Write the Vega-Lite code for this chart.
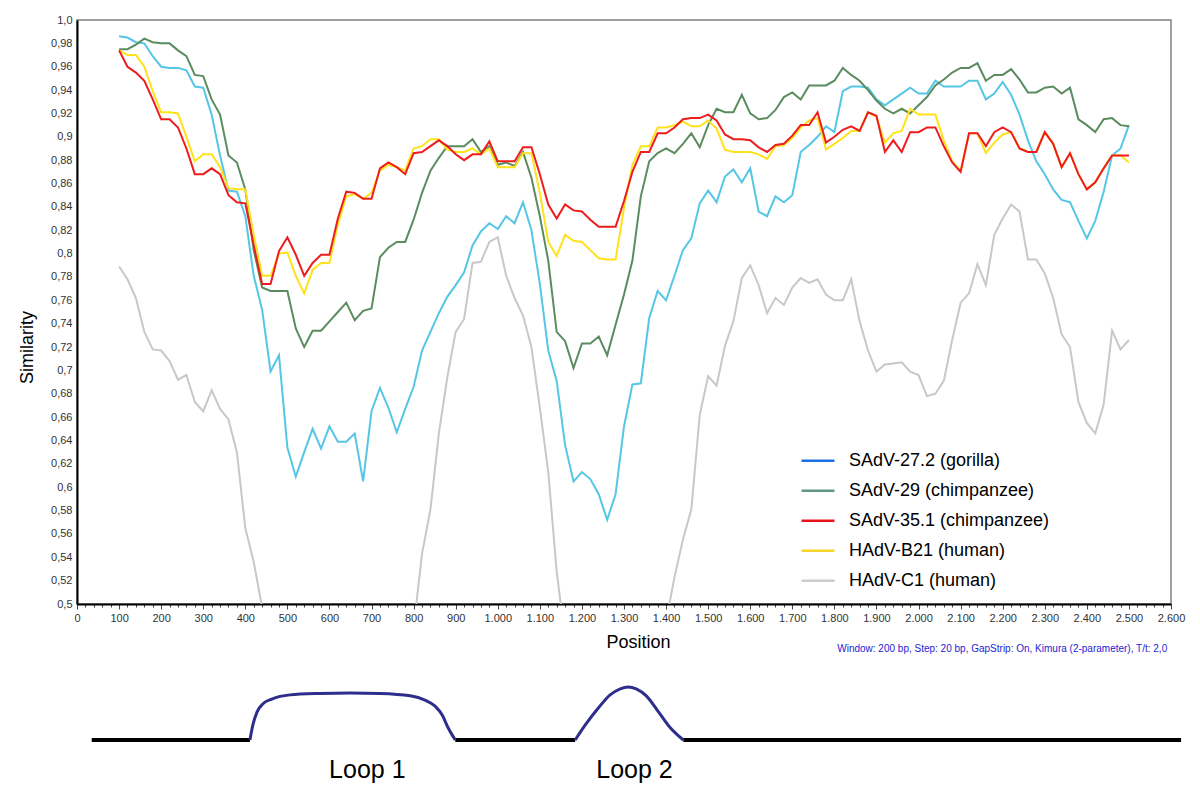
{
  "$schema": "https://vega.github.io/schema/vega-lite/v6.json",
  "width": 1094,
  "height": 584,
  "autosize": {"type": "none"},
  "padding": {"left": 77, "top": 20, "right": 29, "bottom": 193},
  "background": "white",
  "config": {
    "font": "Liberation Sans",
    "view": {"stroke": "#808080", "strokeWidth": 1.5},
    "axis": {"grid": false}
  },
  "datasets": {
    "sim": [
      {"p":100,"c":0.986,"g":0.975,"s":0.974,"b":0.974,"h":0.789},
      {"p":120,"c":0.985,"g":0.975,"s":0.960,"b":0.970,"h":0.778},
      {"p":140,"c":0.981,"g":0.979,"s":0.955,"b":0.970,"h":0.762},
      {"p":160,"c":0.980,"g":0.984,"s":0.948,"b":0.960,"h":0.733},
      {"p":180,"c":0.969,"g":0.981,"s":0.932,"b":0.939,"h":0.718},
      {"p":200,"c":0.960,"g":0.980,"s":0.915,"b":0.921,"h":0.717},
      {"p":220,"c":0.959,"g":0.980,"s":0.915,"b":0.921,"h":0.708},
      {"p":240,"c":0.959,"g":0.974,"s":0.908,"b":0.920,"h":0.692},
      {"p":260,"c":0.957,"g":0.969,"s":0.890,"b":0.900,"h":0.696},
      {"p":280,"c":0.943,"g":0.953,"s":0.868,"b":0.879,"h":0.673},
      {"p":300,"c":0.942,"g":0.952,"s":0.868,"b":0.885,"h":0.665},
      {"p":320,"c":0.919,"g":0.932,"s":0.873,"b":0.885,"h":0.683},
      {"p":340,"c":0.884,"g":0.919,"s":0.868,"b":0.874,"h":0.667},
      {"p":360,"c":0.854,"g":0.884,"s":0.850,"b":0.856,"h":0.658},
      {"p":380,"c":0.853,"g":0.878,"s":0.844,"b":0.855,"h":0.630},
      {"p":400,"c":0.832,"g":0.855,"s":0.843,"b":0.855,"h":0.565},
      {"p":420,"c":0.781,"g":0.803,"s":0.807,"b":0.816,"h":0.536},
      {"p":440,"c":0.752,"g":0.771,"s":0.774,"b":0.781,"h":0.497},
      {"p":460,"c":0.699,"g":0.768,"s":0.774,"b":0.781,"h":0.46},
      {"p":480,"c":0.713,"g":0.768,"s":0.802,"b":0.800,"h":0.43},
      {"p":500,"c":0.634,"g":0.768,"s":0.814,"b":0.801,"h":0.41},
      {"p":520,"c":0.609,"g":0.736,"s":0.799,"b":0.781,"h":0.40},
      {"p":540,"c":0.630,"g":0.720,"s":0.781,"b":0.766,"h":0.39},
      {"p":560,"c":0.650,"g":0.734,"s":0.792,"b":0.786,"h":0.38},
      {"p":580,"c":0.633,"g":0.734,"s":0.799,"b":0.792,"h":0.37},
      {"p":600,"c":0.652,"g":0.742,"s":0.799,"b":0.792,"h":0.37},
      {"p":620,"c":0.639,"g":0.750,"s":0.830,"b":0.825,"h":0.37},
      {"p":640,"c":0.639,"g":0.758,"s":0.853,"b":0.849,"h":0.37},
      {"p":660,"c":0.646,"g":0.743,"s":0.852,"b":0.851,"h":0.38},
      {"p":680,"c":0.605,"g":0.751,"s":0.847,"b":0.847,"h":0.39},
      {"p":700,"c":0.665,"g":0.753,"s":0.847,"b":0.852,"h":0.40},
      {"p":720,"c":0.685,"g":0.797,"s":0.873,"b":0.871,"h":0.41},
      {"p":740,"c":0.668,"g":0.805,"s":0.878,"b":0.876,"h":0.42},
      {"p":760,"c":0.647,"g":0.810,"s":0.874,"b":0.874,"h":0.44},
      {"p":780,"c":0.667,"g":0.810,"s":0.868,"b":0.871,"h":0.46},
      {"p":800,"c":0.686,"g":0.829,"s":0.886,"b":0.890,"h":0.48},
      {"p":820,"c":0.717,"g":0.852,"s":0.887,"b":0.892,"h":0.543},
      {"p":840,"c":0.733,"g":0.871,"s":0.892,"b":0.898,"h":0.581},
      {"p":860,"c":0.749,"g":0.882,"s":0.897,"b":0.898,"h":0.646},
      {"p":880,"c":0.763,"g":0.892,"s":0.892,"b":0.889,"h":0.694},
      {"p":900,"c":0.773,"g":0.892,"s":0.885,"b":0.887,"h":0.733},
      {"p":920,"c":0.784,"g":0.892,"s":0.880,"b":0.887,"h":0.744},
      {"p":940,"c":0.807,"g":0.898,"s":0.885,"b":0.890,"h":0.792},
      {"p":960,"c":0.819,"g":0.887,"s":0.885,"b":0.885,"h":0.793},
      {"p":980,"c":0.826,"g":0.892,"s":0.896,"b":0.890,"h":0.810},
      {"p":1000,"c":0.821,"g":0.876,"s":0.879,"b":0.874,"h":0.814},
      {"p":1020,"c":0.832,"g":0.878,"s":0.879,"b":0.874,"h":0.781},
      {"p":1040,"c":0.826,"g":0.875,"s":0.879,"b":0.874,"h":0.762},
      {"p":1060,"c":0.844,"g":0.887,"s":0.891,"b":0.886,"h":0.747},
      {"p":1080,"c":0.820,"g":0.865,"s":0.891,"b":0.886,"h":0.720},
      {"p":1100,"c":0.774,"g":0.832,"s":0.868,"b":0.852,"h":0.668},
      {"p":1120,"c":0.717,"g":0.794,"s":0.842,"b":0.810,"h":0.613},
      {"p":1140,"c":0.691,"g":0.733,"s":0.830,"b":0.798,"h":0.528},
      {"p":1160,"c":0.636,"g":0.725,"s":0.842,"b":0.816,"h":0.47},
      {"p":1180,"c":0.605,"g":0.702,"s":0.837,"b":0.811,"h":0.44},
      {"p":1200,"c":0.613,"g":0.723,"s":0.836,"b":0.810,"h":0.42},
      {"p":1220,"c":0.607,"g":0.723,"s":0.829,"b":0.803,"h":0.40},
      {"p":1240,"c":0.594,"g":0.729,"s":0.823,"b":0.796,"h":0.39},
      {"p":1260,"c":0.572,"g":0.713,"s":0.823,"b":0.795,"h":0.39},
      {"p":1280,"c":0.594,"g":0.739,"s":0.823,"b":0.795,"h":0.39},
      {"p":1300,"c":0.652,"g":0.765,"s":0.845,"b":0.839,"h":0.40},
      {"p":1320,"c":0.688,"g":0.794,"s":0.870,"b":0.876,"h":0.41},
      {"p":1340,"c":0.689,"g":0.849,"s":0.887,"b":0.892,"h":0.42},
      {"p":1360,"c":0.745,"g":0.879,"s":0.887,"b":0.892,"h":0.44},
      {"p":1380,"c":0.768,"g":0.886,"s":0.903,"b":0.908,"h":0.46},
      {"p":1400,"c":0.760,"g":0.890,"s":0.903,"b":0.908,"h":0.485},
      {"p":1420,"c":0.781,"g":0.886,"s":0.908,"b":0.910,"h":0.523},
      {"p":1440,"c":0.803,"g":0.894,"s":0.915,"b":0.913,"h":0.555},
      {"p":1460,"c":0.813,"g":0.903,"s":0.916,"b":0.909,"h":0.581},
      {"p":1480,"c":0.843,"g":0.891,"s":0.916,"b":0.909,"h":0.662},
      {"p":1500,"c":0.854,"g":0.910,"s":0.919,"b":0.914,"h":0.695},
      {"p":1520,"c":0.844,"g":0.924,"s":0.914,"b":0.907,"h":0.687},
      {"p":1540,"c":0.866,"g":0.921,"s":0.902,"b":0.889,"h":0.721},
      {"p":1560,"c":0.872,"g":0.921,"s":0.898,"b":0.887,"h":0.742},
      {"p":1580,"c":0.861,"g":0.936,"s":0.898,"b":0.887,"h":0.779},
      {"p":1600,"c":0.873,"g":0.920,"s":0.897,"b":0.887,"h":0.790},
      {"p":1620,"c":0.836,"g":0.915,"s":0.891,"b":0.885,"h":0.773},
      {"p":1640,"c":0.832,"g":0.916,"s":0.887,"b":0.881,"h":0.749},
      {"p":1660,"c":0.849,"g":0.923,"s":0.893,"b":0.892,"h":0.762},
      {"p":1680,"c":0.844,"g":0.934,"s":0.894,"b":0.893,"h":0.756},
      {"p":1700,"c":0.850,"g":0.938,"s":0.901,"b":0.899,"h":0.771},
      {"p":1720,"c":0.887,"g":0.932,"s":0.910,"b":0.908,"h":0.779},
      {"p":1740,"c":0.893,"g":0.944,"s":0.910,"b":0.914,"h":0.775},
      {"p":1760,"c":0.900,"g":0.944,"s":0.921,"b":0.916,"h":0.778},
      {"p":1780,"c":0.909,"g":0.944,"s":0.895,"b":0.889,"h":0.765},
      {"p":1800,"c":0.904,"g":0.948,"s":0.900,"b":0.894,"h":0.760},
      {"p":1820,"c":0.939,"g":0.959,"s":0.906,"b":0.899,"h":0.760},
      {"p":1840,"c":0.943,"g":0.953,"s":0.909,"b":0.905,"h":0.778},
      {"p":1860,"c":0.943,"g":0.948,"s":0.905,"b":0.905,"h":0.742},
      {"p":1880,"c":0.942,"g":0.940,"s":0.921,"b":0.921,"h":0.717},
      {"p":1900,"c":0.932,"g":0.931,"s":0.918,"b":0.917,"h":0.699},
      {"p":1920,"c":0.927,"g":0.924,"s":0.887,"b":0.895,"h":0.705},
      {"p":1940,"c":0.932,"g":0.920,"s":0.897,"b":0.903,"h":0.706},
      {"p":1960,"c":0.937,"g":0.924,"s":0.887,"b":0.905,"h":0.707},
      {"p":1980,"c":0.942,"g":0.920,"s":0.904,"b":0.924,"h":0.699},
      {"p":2000,"c":0.937,"g":0.927,"s":0.904,"b":0.919,"h":0.696},
      {"p":2020,"c":0.937,"g":0.934,"s":0.908,"b":0.919,"h":0.678},
      {"p":2040,"c":0.948,"g":0.944,"s":0.908,"b":0.919,"h":0.680},
      {"p":2060,"c":0.943,"g":0.949,"s":0.892,"b":0.897,"h":0.691},
      {"p":2080,"c":0.943,"g":0.955,"s":0.878,"b":0.879,"h":0.726},
      {"p":2100,"c":0.943,"g":0.959,"s":0.870,"b":0.871,"h":0.758},
      {"p":2120,"c":0.948,"g":0.959,"s":0.903,"b":0.903,"h":0.766},
      {"p":2140,"c":0.948,"g":0.963,"s":0.903,"b":0.903,"h":0.791},
      {"p":2160,"c":0.932,"g":0.948,"s":0.892,"b":0.886,"h":0.773},
      {"p":2180,"c":0.937,"g":0.953,"s":0.904,"b":0.895,"h":0.816},
      {"p":2200,"c":0.947,"g":0.953,"s":0.908,"b":0.902,"h":0.830},
      {"p":2220,"c":0.936,"g":0.958,"s":0.904,"b":0.904,"h":0.842},
      {"p":2240,"c":0.919,"g":0.949,"s":0.890,"b":0.890,"h":0.836},
      {"p":2260,"c":0.897,"g":0.938,"s":0.887,"b":0.887,"h":0.795},
      {"p":2280,"c":0.879,"g":0.938,"s":0.887,"b":0.887,"h":0.795},
      {"p":2300,"c":0.868,"g":0.942,"s":0.904,"b":0.904,"h":0.783},
      {"p":2320,"c":0.855,"g":0.943,"s":0.894,"b":0.894,"h":0.762},
      {"p":2340,"c":0.846,"g":0.937,"s":0.874,"b":0.874,"h":0.731},
      {"p":2360,"c":0.844,"g":0.942,"s":0.886,"b":0.886,"h":0.720},
      {"p":2380,"c":0.828,"g":0.915,"s":0.868,"b":0.868,"h":0.673},
      {"p":2400,"c":0.813,"g":0.910,"s":0.855,"b":0.855,"h":0.655},
      {"p":2420,"c":0.828,"g":0.904,"s":0.861,"b":0.861,"h":0.646},
      {"p":2440,"c":0.853,"g":0.915,"s":0.873,"b":0.873,"h":0.671},
      {"p":2460,"c":0.884,"g":0.916,"s":0.884,"b":0.884,"h":0.734},
      {"p":2480,"c":0.890,"g":0.910,"s":0.884,"b":0.884,"h":0.718},
      {"p":2500,"c":0.910,"g":0.909,"s":0.884,"b":0.878,"h":0.726}
    ],
    "schematic": [
      {"seg":"b1","kind":"base","p":35,"lv":0},
      {"seg":"b1","kind":"base","p":411,"lv":0},
      {"seg":"b2","kind":"base","p":899,"lv":0},
      {"seg":"b2","kind":"base","p":1184,"lv":0},
      {"seg":"b3","kind":"base","p":1441,"lv":0},
      {"seg":"b3","kind":"base","p":2624,"lv":0},
      {"seg":"l1","kind":"loop","p":411,"lv":0},
      {"seg":"l1","kind":"loop","p":418,"lv":0.32},
      {"seg":"l1","kind":"loop","p":428,"lv":0.6},
      {"seg":"l1","kind":"loop","p":442,"lv":0.77},
      {"seg":"l1","kind":"loop","p":463,"lv":0.87},
      {"seg":"l1","kind":"loop","p":506,"lv":0.96},
      {"seg":"l1","kind":"loop","p":577,"lv":0.99},
      {"seg":"l1","kind":"loop","p":649,"lv":1.0},
      {"seg":"l1","kind":"loop","p":720,"lv":0.99},
      {"seg":"l1","kind":"loop","p":792,"lv":0.94},
      {"seg":"l1","kind":"loop","p":827,"lv":0.85},
      {"seg":"l1","kind":"loop","p":851,"lv":0.72},
      {"seg":"l1","kind":"loop","p":868,"lv":0.53},
      {"seg":"l1","kind":"loop","p":882,"lv":0.26},
      {"seg":"l1","kind":"loop","p":899,"lv":0},
      {"seg":"l2","kind":"loop","p":1184,"lv":0},
      {"seg":"l2","kind":"loop","p":1208,"lv":0.32},
      {"seg":"l2","kind":"loop","p":1239,"lv":0.68},
      {"seg":"l2","kind":"loop","p":1267,"lv":0.96},
      {"seg":"l2","kind":"loop","p":1291,"lv":1.09},
      {"seg":"l2","kind":"loop","p":1310,"lv":1.13},
      {"seg":"l2","kind":"loop","p":1329,"lv":1.09},
      {"seg":"l2","kind":"loop","p":1353,"lv":0.94},
      {"seg":"l2","kind":"loop","p":1382,"lv":0.6},
      {"seg":"l2","kind":"loop","p":1410,"lv":0.26},
      {"seg":"l2","kind":"loop","p":1441,"lv":0}
    ],
    "labels": [
      {"p":690,"lv":-0.64,"label":"Loop 1"},
      {"p":1325,"lv":-0.64,"label":"Loop 2"}
    ],
    "note": [
      {"p":2591,"lv":1.936,"label":"Window: 200 bp, Step: 20 bp, GapStrip: On, Kimura (2-parameter), T/t: 2,0"}
    ]
  },
  "encoding": {
    "x": {
      "field": "p",
      "type": "quantitative",
      "scale": {"domain": [0, 2600], "nice": false, "zero": false},
      "axis": {
        "title": "Position",
        "titleFontSize": 18,
        "titleFontWeight": "normal",
        "titleColor": "#000",
        "titleX": 561,
        "titleY": 29,
        "titleBaseline": "top",
        "tickCount": 130,
        "labelExpr": "datum.value % 100 === 0 ? replace(format(datum.value, ','), ',', '.') : ''",
        "labelOverlap": false,
        "labelFlush": false,
        "labelBound": false,
        "labelFontSize": 11,
        "labelColor": "#333",
        "labelPadding": 3,
        "tickSize": {"condition": {"test": "datum.value % 100 === 0", "value": 5}, "value": 3},
        "tickColor": "#444",
        "domainColor": "#000",
        "domainWidth": 2
      }
    }
  },
  "layer": [
    {
      "data": {"name": "sim"},
      "transform": [{"fold": ["h", "c", "g", "b", "s"], "as": ["series", "value"]}],
      "mark": {"type": "line", "clip": true},
      "encoding": {
        "y": {
          "field": "value",
          "type": "quantitative",
          "scale": {"domain": [0.5, 1.0], "nice": false, "zero": false},
          "axis": {
            "title": "Similarity",
            "titleFontSize": 18,
            "titleFontWeight": "normal",
            "titleColor": "#000",
            "titleX": -50,
            "titleY": 327,
            "titleBaseline": "middle",
            "tickCount": 25,
            "ticks": false,
            "labelPadding": 5,
            "labelFontSize": 11,
            "labelColor": "#333",
            "labelOverlap": false,
            "labelExpr": "datum.value >= 0.999 ? '1,0' : replace(format(datum.value, '.2~f'), '.', ',')",
            "domainColor": "#000",
            "domainWidth": 2
          }
        },
        "color": {
          "field": "series",
          "type": "nominal",
          "scale": {
            "domain": ["h", "b", "s", "g", "c"],
            "range": ["#c8c8c8", "#ffe21a", "#ee1c1c", "#5b8c5f", "#55c6e6"]
          },
          "legend": null
        },
        "strokeWidth": {
          "field": "series",
          "type": "nominal",
          "scale": {"domain": ["h", "b", "s", "g", "c"], "range": [2, 2, 2.5, 2, 2]},
          "legend": null
        }
      }
    },
    {
      "data": {"name": "sim"},
      "transform": [{"fold": ["c", "g", "s", "b", "h"], "as": ["entry", "val"]}],
      "mark": {"type": "line", "clip": true},
      "encoding": {
        "y": {"field": "val", "type": "quantitative", "scale": {"domain": [3, 4], "nice": false, "zero": false}, "axis": null},
        "stroke": {
          "field": "entry",
          "type": "nominal",
          "scale": {
            "domain": ["c", "g", "s", "b", "h"],
            "range": ["#1a72e6", "#5f9585", "#e8141c", "#f5d42a", "#cccccc"]
          },
          "legend": {
            "title": null,
            "orient": "none",
            "legendX": 723,
            "legendY": 426,
            "symbolType": "stroke",
            "symbolSize": 1089,
            "symbolStrokeWidth": 2.5,
            "clipHeight": 29.5,
            "rowPadding": 0,
            "labelOffset": 13,
            "labelFontSize": 18,
            "labelColor": "#000",
            "labelLimit": 400,
            "labelExpr": "datum.label === 'c' ? 'SAdV-27.2 (gorilla)' : datum.label === 'g' ? 'SAdV-29 (chimpanzee)' : datum.label === 's' ? 'SAdV-35.1 (chimpanzee)' : datum.label === 'b' ? 'HAdV-B21 (human)' : 'HAdV-C1 (human)'"
          }
        }
      }
    },
    {
      "data": {"name": "schematic"},
      "transform": [{"filter": "datum.kind === 'base'"}],
      "mark": {"type": "line", "color": "#000", "strokeWidth": 4},
      "encoding": {
        "y": {"field": "lv", "type": "quantitative", "scale": {"domain": [0, 1], "range": [720, 673], "nice": false, "zero": false}, "axis": null},
        "detail": {"field": "seg"}
      }
    },
    {
      "data": {"name": "schematic"},
      "transform": [{"filter": "datum.kind === 'loop'"}],
      "mark": {"type": "line", "color": "#2d2e8c", "strokeWidth": 3, "interpolate": "monotone"},
      "encoding": {
        "y": {"field": "lv", "type": "quantitative", "scale": {"domain": [0, 1], "range": [720, 673], "nice": false, "zero": false}, "axis": null},
        "detail": {"field": "seg"}
      }
    },
    {
      "data": {"name": "labels"},
      "mark": {"type": "text", "fontSize": 25, "color": "#000", "baseline": "middle", "align": "center"},
      "encoding": {
        "y": {"field": "lv", "type": "quantitative", "scale": {"domain": [0, 1], "range": [720, 673], "nice": false, "zero": false}, "axis": null},
        "text": {"field": "label"}
      }
    },
    {
      "data": {"name": "note"},
      "mark": {"type": "text", "fontSize": 10, "color": "#2424d0", "baseline": "middle", "align": "right"},
      "encoding": {
        "y": {"field": "lv", "type": "quantitative", "scale": {"domain": [0, 1], "range": [720, 673], "nice": false, "zero": false}, "axis": null},
        "text": {"field": "label"}
      }
    }
  ],
  "resolve": {"scale": {"y": "independent"}}
}
